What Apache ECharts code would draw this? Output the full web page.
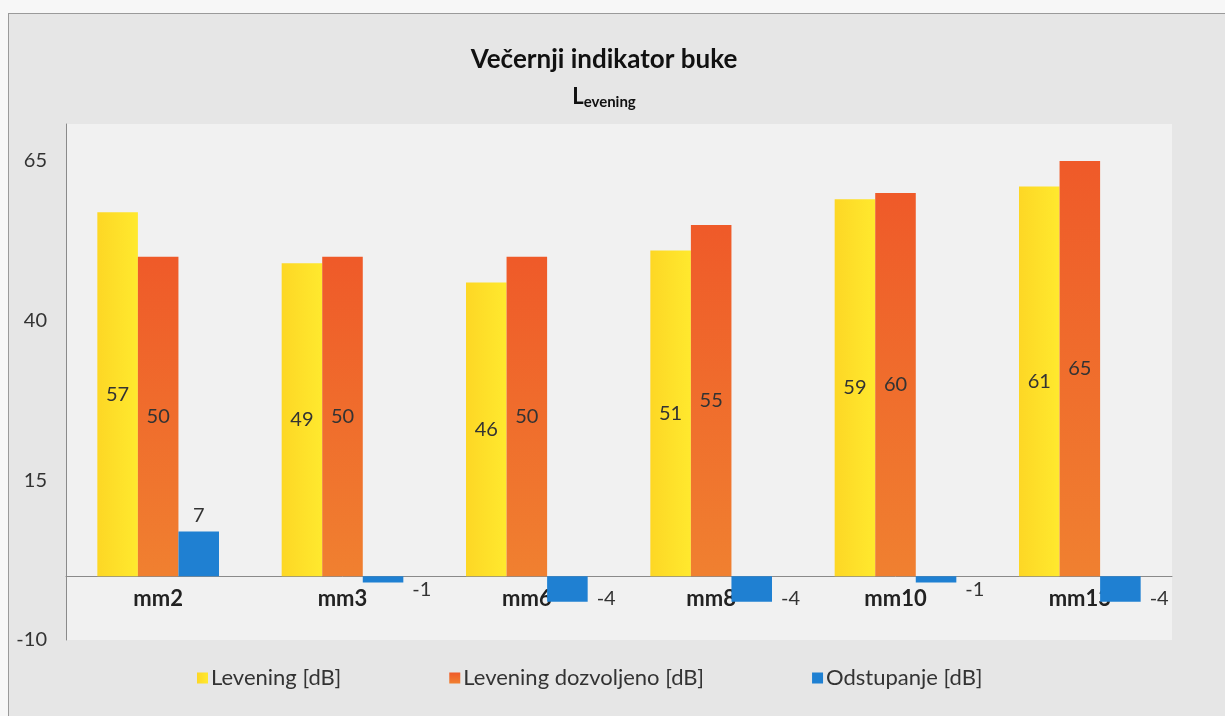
<!DOCTYPE html>
<html>
<head>
<meta charset="utf-8">
<script src="https://cdn.jsdelivr.net/npm/echarts@6/dist/echarts.min.js"></script>
<style>
  html, body { margin: 0; padding: 0; background: #f7f7f7; }
  #chart {
    position: absolute; left: 8px; top: 13px; width: 1217px; height: 703px;
    border-left: 1px solid #9a9a9a; border-top: 1px solid #9a9a9a;
    box-sizing: border-box; background: #e6e6e6;
  }
</style>
</head>
<body>
<div id="chart"></div>
<script>
// measuring points
const categories = ['mm2', 'mm3', 'mm6', 'mm8', 'mm10', 'mm13']
const levening = [57, 49, 46, 51, 59, 61]
const dozvoljeno = [50, 50, 50, 55, 60, 65]
const odstupanje = [7, -1, -4, -4, -1, -4]
const yTicks = [-10, 15, 40, 65]

const FONT = 'Lato'

const chart = echarts.init(document.getElementById('chart'))

const valueLabel = {
    show: true,
    position: 'inside',
    color: '#333',
    fontFamily: FONT,
    fontSize: 20
}

// Excel puts the negative deviation labels right of the bar, a bit lower
const deviationData = odstupanje.map(v => ({
    value: v,
    label: v < 0
        ? { position: 'right', offset: [4, 10] }
        : { position: 'top', distance: 6 }
}))

chart.setOption({
    animation: false,
    title: {
        text: 'Večernji indikator buke',
        subtext: '{l|L}{s|evening}',
        left: 590,
        textAlign: 'center',
        top: 28,
        itemGap: 10,
        textStyle: { fontFamily: FONT, fontSize: 26, fontWeight: 'bold', color: '#111' },
        subtextStyle: {
            rich: {
                l: { fontFamily: FONT, fontSize: 22, fontWeight: 'bold', color: '#111' },
                s: { fontFamily: FONT, fontSize: 15, fontWeight: 'bold', color: '#111', padding: [12, 0, 0, 0] }
            }
        }
    },
    legend: {
        bottom: 22,
        left: 183,
        itemWidth: 11,
        itemHeight: 11,
        itemGap: 108,
        icon: 'rect',
        textStyle: { fontFamily: FONT, fontSize: 22, color: '#333', padding: [0, 0, 0, -2] },
        data: ['Levening [dB]', 'Levening dozvoljeno [dB]', 'Odstupanje [dB]']
    },
    grid: {
        left: 57,
        right: 53,
        top: 110,
        bottom: 76,
        show: true,
        backgroundColor: '#f1f1f1',
        borderWidth: 0
    },
    xAxis: {
        type: 'category',
        data: categories,
        axisLine: { onZero: true, lineStyle: { color: '#8a8a8a', width: 1 } },
        axisTick: { show: false },
        // labels sit just under the zero line, not at the bottom of the plot
        axisLabel: { margin: -52, color: '#222', fontFamily: FONT, fontSize: 22, fontWeight: 'bold' }
    },
    yAxis: {
        type: 'value',
        min: -10,
        max: 70.8,
        interval: 25,
        splitLine: { show: false },
        axisTick: { show: false },
        axisLine: { show: true, lineStyle: { color: '#8a8a8a', width: 1 } },
        axisLabel: {
            margin: 19,
            color: '#333',
            fontFamily: FONT,
            fontSize: 20,
            showMaxLabel: false,
            formatter: v => (yTicks.includes(v) ? String(v) : '')
        }
    },
    series: [
        {
            name: 'Levening [dB]',
            type: 'bar',
            data: levening,
            barGap: '0%',
            barCategoryGap: '34%',
            itemStyle: {
                color: new echarts.graphic.LinearGradient(0, 0, 1, 0, [
                    { offset: 0, color: '#fdd725' },
                    { offset: 1, color: '#ffe92e' }
                ])
            },
            label: valueLabel
        },
        {
            name: 'Levening dozvoljeno [dB]',
            type: 'bar',
            data: dozvoljeno,
            itemStyle: {
                color: new echarts.graphic.LinearGradient(0, 0, 0, 1, [
                    { offset: 0, color: '#ef5a29' },
                    { offset: 1, color: '#f08030' }
                ])
            },
            label: valueLabel
        },
        {
            name: 'Odstupanje [dB]',
            type: 'bar',
            data: deviationData,
            itemStyle: { color: '#1f80d2' },
            label: { show: true, color: '#333', fontFamily: FONT, fontSize: 20 }
        }
    ]
})

window.addEventListener('resize', () => chart.resize())
</script>
</body>
</html>
